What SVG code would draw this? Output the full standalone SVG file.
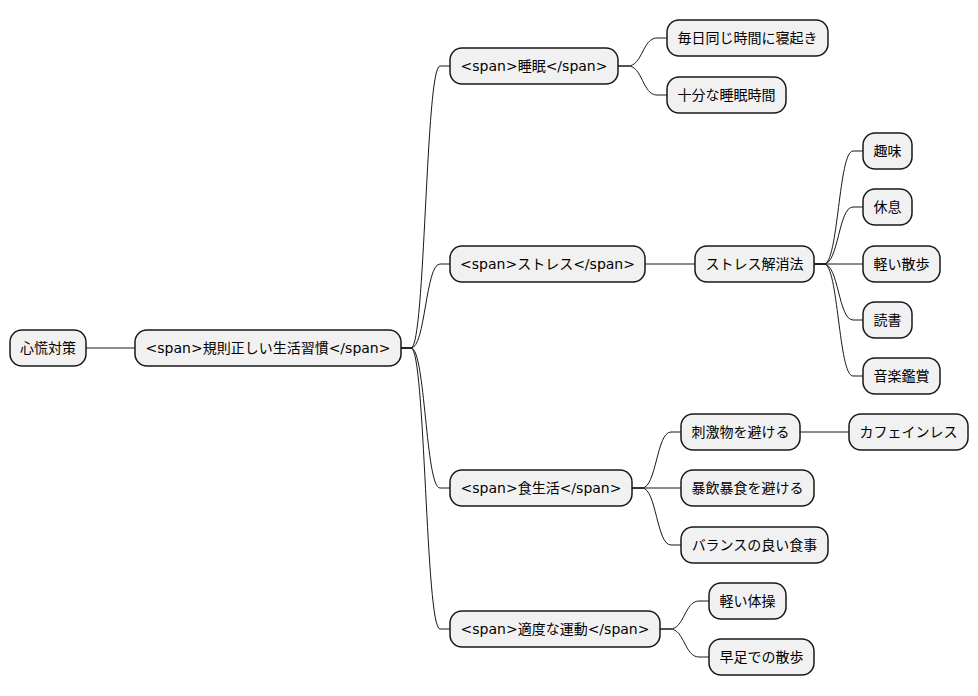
<svg xmlns="http://www.w3.org/2000/svg" width="978" height="696" viewBox="0 0 978 696">
<style>
.n rect{fill:#F1F1F1;stroke:#181818;stroke-width:1.5}
.n text{font-family:"DejaVu Sans","Noto Sans CJK JP",sans-serif;font-size:14px;fill:#000;text-anchor:middle;dominant-baseline:central}
#connectors path{fill:none;stroke:#181818;stroke-width:1}
</style>
<rect width="978" height="696" fill="#FFFFFF"/>
<g id="connectors">
<path d="M86,348 L135,348"/>
<path d="M401,348 L411,348 C425.5,348 425.5,66 440,66 L450,66"/>
<path d="M401,348 L411,348 C425.5,348 425.5,264 440,264 L450,264"/>
<path d="M401,348 L411,348 C425.5,348 425.5,488 440,488 L450,488"/>
<path d="M401,348 L411,348 C425.5,348 425.5,629 440,629 L450,629"/>
<path d="M618,66 L628,66 C642.5,66 642.5,38 657,38 L667,38"/>
<path d="M618,66 L628,66 C642.5,66 642.5,95 657,95 L667,95"/>
<path d="M645,264 L695,264"/>
<path d="M814,264 L824,264 C838.5,264 838.5,151 853,151 L863,151"/>
<path d="M814,264 L824,264 C838.5,264 838.5,207 853,207 L863,207"/>
<path d="M814,264 L863,264"/>
<path d="M814,264 L824,264 C838.5,264 838.5,320 853,320 L863,320"/>
<path d="M814,264 L824,264 C838.5,264 838.5,376 853,376 L863,376"/>
<path d="M632,488 L642,488 C656.5,488 656.5,432 671,432 L681,432"/>
<path d="M632,488 L681,488"/>
<path d="M632,488 L642,488 C656.5,488 656.5,545 671,545 L681,545"/>
<path d="M800,432 L849,432"/>
<path d="M660,629 L670,629 C684.5,629 684.5,601 699,601 L709,601"/>
<path d="M660,629 L670,629 C684.5,629 684.5,657 699,657 L709,657"/>
</g>
<g id="root" class="n"><rect x="10" y="330" width="76" height="36" rx="12"/><text x="48" y="348">心慌対策</text></g>
<g id="habit" class="n"><rect x="135" y="330" width="266" height="36" rx="12"/><text x="268" y="348">&lt;span&gt;規則正しい生活習慣&lt;/span&gt;</text></g>
<g id="sleep" class="n"><rect x="450" y="48" width="168" height="36" rx="12"/><text x="534" y="66">&lt;span&gt;睡眠&lt;/span&gt;</text></g>
<g id="sleep1" class="n"><rect x="667" y="20" width="161" height="36" rx="12"/><text x="747.5" y="38">毎日同じ時間に寝起き</text></g>
<g id="sleep2" class="n"><rect x="667" y="77" width="119" height="36" rx="12"/><text x="726.5" y="95">十分な睡眠時間</text></g>
<g id="stress" class="n"><rect x="450" y="246" width="195" height="36" rx="12"/><text x="547.5" y="264">&lt;span&gt;ストレス&lt;/span&gt;</text></g>
<g id="relief" class="n"><rect x="695" y="246" width="119" height="36" rx="12"/><text x="754.5" y="264">ストレス解消法</text></g>
<g id="hobby" class="n"><rect x="863" y="133" width="49" height="36" rx="12"/><text x="887.5" y="151">趣味</text></g>
<g id="rest" class="n"><rect x="863" y="189" width="49" height="36" rx="12"/><text x="887.5" y="207">休息</text></g>
<g id="walk" class="n"><rect x="863" y="246" width="77" height="36" rx="12"/><text x="901.5" y="264">軽い散歩</text></g>
<g id="read" class="n"><rect x="863" y="302" width="49" height="36" rx="12"/><text x="887.5" y="320">読書</text></g>
<g id="music" class="n"><rect x="863" y="358" width="77" height="36" rx="12"/><text x="901.5" y="376">音楽鑑賞</text></g>
<g id="diet" class="n"><rect x="450" y="470" width="182" height="36" rx="12"/><text x="541" y="488">&lt;span&gt;食生活&lt;/span&gt;</text></g>
<g id="stim" class="n"><rect x="681" y="414" width="119" height="36" rx="12"/><text x="740.5" y="432">刺激物を避ける</text></g>
<g id="decaf" class="n"><rect x="849" y="414" width="119" height="36" rx="12"/><text x="908.5" y="432">カフェインレス</text></g>
<g id="binge" class="n"><rect x="681" y="470" width="133" height="36" rx="12"/><text x="747.5" y="488">暴飲暴食を避ける</text></g>
<g id="balance" class="n"><rect x="681" y="527" width="147" height="36" rx="12"/><text x="754.5" y="545">バランスの良い食事</text></g>
<g id="exercise" class="n"><rect x="450" y="611" width="210" height="36" rx="12"/><text x="555" y="629">&lt;span&gt;適度な運動&lt;/span&gt;</text></g>
<g id="gym" class="n"><rect x="709" y="583" width="77" height="36" rx="12"/><text x="747.5" y="601">軽い体操</text></g>
<g id="brisk" class="n"><rect x="709" y="639" width="105" height="36" rx="12"/><text x="761.5" y="657">早足での散歩</text></g>
</svg>
